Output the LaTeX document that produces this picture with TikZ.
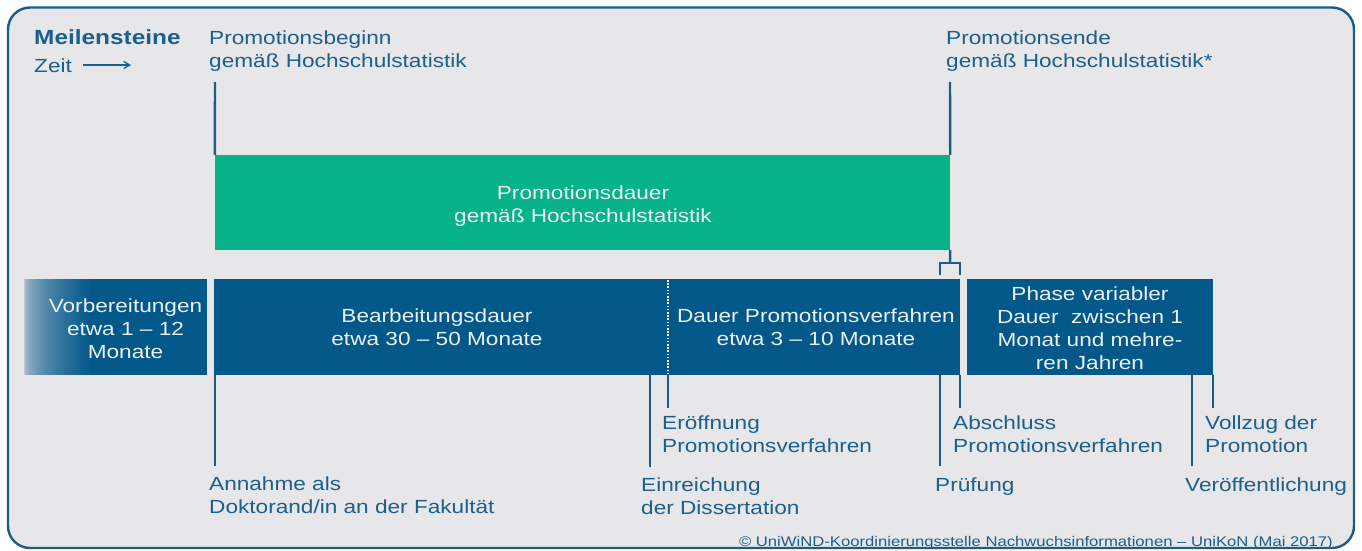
\documentclass[tikz,border=0pt]{standalone}
\usepackage{fontspec}
\setmainfont{Liberation Sans}[FakeStretch=1.19]
\usetikzlibrary{arrows.meta}
\definecolor{lbl}{HTML}{1B5F8C}
\definecolor{frm}{HTML}{1D5C85}
\definecolor{bg}{HTML}{E7E7EA}
\definecolor{grn}{HTML}{06B287}
\definecolor{barblue}{HTML}{03588A}
\definecolor{barlight}{HTML}{BCC8D6}
\definecolor{wtxt}{HTML}{ECF0F4}
\tikzset{
  lbltext/.style={text=lbl, font=\fontsize{19}{23}\selectfont, align=left, anchor=base west, inner sep=0pt},
  bartext/.style={text=wtxt, font=\fontsize{19}{23}\selectfont, align=center, inner sep=0pt},
  boxnode/.style={rectangle, inner sep=0pt, draw=none},
  tick/.style={draw=frm, line width=2.4pt},
}
\begin{document}
\begin{tikzpicture}[x=1pt,y=-1pt]
\useasboundingbox (0,0) rectangle (1362,551);
\fill[white] (0,0) rectangle (1362,551);
\draw[draw=frm, line width=2.4pt, fill=bg, rounded corners=22pt] (8,7.5) rectangle (1354,548);

% header
\node[text=lbl, font=\bfseries\fontsize{20.5}{23}\selectfont, anchor=base west, inner sep=0pt] (meil) at (34,45) {Meilensteine};
\node[lbltext] (zeit) at (34,72) {Zeit};
\coordinate (za) at (83,65);
\coordinate (zb) at (131,65);
\draw[draw=lbl, line width=1.3pt, -{Straight Barb[length=6pt,width=7pt]}] (za) -- (zb);

\node[lbltext] (pbeg) at (209,67) {Promotionsbeginn\\gemäß Hochschulstatistik};
\node[lbltext] (pend) at (946,67) {Promotionsende\\gemäß Hochschulstatistik*};

% green box
\node[boxnode, fill=grn, minimum width=735pt, minimum height=95pt] (green) at (582.5,202.5) {};
\node[bartext] (greentext) at (583,206) {Promotionsdauer\\gemäß Hochschulstatistik};

\coordinate (pbtop) at (215,82);
\coordinate (petop) at (950,82);
\draw[tick] (pbtop) -- (green.north west);
\draw[tick] (petop) -- (green.north east);
% bracket
\coordinate (brc) at (950,263);
\coordinate (brl) at (940,263);
\coordinate (brr) at (960,263);
\coordinate (brlb) at (940,274);
\coordinate (brrb) at (960,274);
\draw[tick] (green.south east) -- (brc);
\draw[tick, line cap=rect] (brlb) -- (brl) -- (brr) -- (brrb);

% bars
\fill[barblue] (24,279) rectangle (207,375);
\foreach \k in {0,...,67} {
  \pgfmathsetmacro{\pct}{100*sqrt(\k/67)}
  \fill[barblue!\pct!barlight] (24+\k,279) rectangle (25.2+\k,375);
}
\coordinate (vorc) at (125.5,329);
\node[bartext] (vortext) at (vorc) {Vorbereitungen\\etwa 1 -- 12\\Monate};

\node[boxnode, fill=barblue, minimum width=746pt, minimum height=96pt] (mainbar) at (587,327) {};
\coordinate (dtop) at (668,280);
\coordinate (dbot) at (668,375);
\draw[white, line width=1.6pt, dash pattern=on 1.6pt off 1.6pt] (dtop) -- (dbot);
\node[bartext] (bearb) at (437,327) {Bearbeitungsdauer\\etwa 30 -- 50 Monate};
\node[bartext] (dauer) at (816,327) {Dauer Promotionsverfahren\\etwa 3 -- 10 Monate};

\node[boxnode, fill=barblue, minimum width=246pt, minimum height=96pt] (phase) at (1090,327) {};
\node[bartext] (phasetext) at (1090,328) {Phase variabler\\Dauer\ \ zwischen 1\\Monat und mehre-\\ren Jahren};

% lower ticks
\coordinate (t1a) at (215,375); \coordinate (t1b) at (215,466);
\coordinate (t2a) at (650,375); \coordinate (t2b) at (650,467);
\coordinate (t3a) at (668,375); \coordinate (t3b) at (668,408);
\coordinate (t4a) at (940,375); \coordinate (t4b) at (940,466);
\coordinate (t5a) at (960,375); \coordinate (t5b) at (960,408);
\coordinate (t6a) at (1192,375); \coordinate (t6b) at (1192,466);
\coordinate (t7a) at (1213,375); \coordinate (t7b) at (1213,408);
\foreach \i in {1,...,7} {\draw[tick] (t\i a) -- (t\i b);}

\node[lbltext] (annahme) at (209,513) {Annahme als\\Doktorand/in an der Fakultät};
\node[lbltext] (einr) at (641,514) {Einreichung\\der Dissertation};
\node[lbltext] (eroeff) at (662,452) {Eröffnung\\Promotionsverfahren};
\node[lbltext] (pruef) at (935,491) {Prüfung};
\node[lbltext] (abschl) at (953,452) {Abschluss\\Promotionsverfahren};
\node[lbltext] (veroeff) at (1185,491) {Veröffentlichung};
\node[lbltext] (vollzug) at (1205,452) {Vollzug der\\Promotion};

\node[text=lbl, font=\fontsize{14}{16}\selectfont, anchor=base east, inner sep=0pt] (copy) at (1333,546) {© UniWiND-Koordinierungsstelle Nachwuchsinformationen -- UniKoN (Mai 2017)};
\end{tikzpicture}
\end{document}
